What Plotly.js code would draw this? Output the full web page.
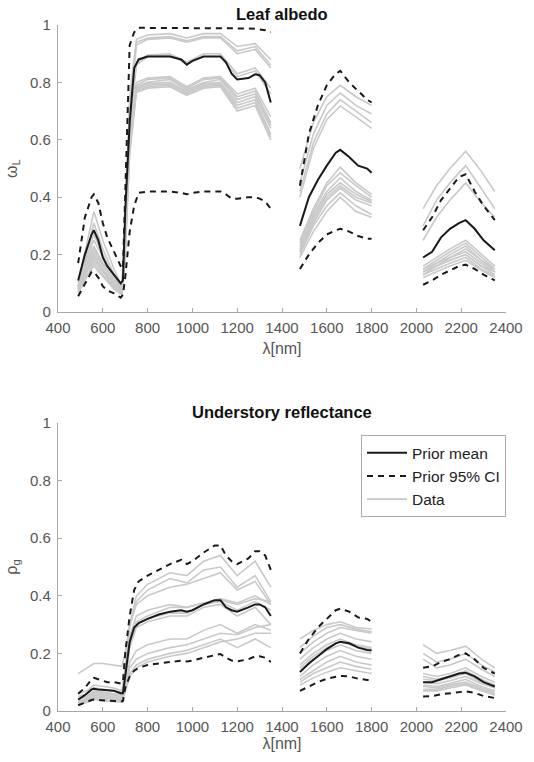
<!DOCTYPE html>
<html>
<head>
<meta charset="utf-8">
<script src="https://cdn.plot.ly/plotly-3.0.1.min.js"></script>
<style>html,body{margin:0;padding:0;background:#fff;}#plot{width:534px;height:762px;}</style>
</head>
<body>
<div id="plot"></div>
<script>
// Wavelengths for prior mean / CI (null = gap between bands)
const wl = [490,520,550,560,580,600,620,650,680,690,700,720,740,760,800,850,900,950,975,1000,1050,1100,1125,1150,1175,1200,1250,1280,1300,1325,1350,
  null,
  1480,1520,1560,1600,1640,1660,1700,1740,1780,1800,
  null,
  2030,2070,2110,2150,2190,2220,2260,2300,2350];

// Wavelengths for data curves
const wlData = [490,530,560,600,650,685,700,720,750,800,900,975,1050,1125,1200,1280,1350,
  null,
  1480,1540,1600,1660,1730,1800,
  null,
  2030,2090,2150,2220,2290,2350];

// ---- Leaf albedo ----
const leafMean = [0.11,0.20,0.27,0.285,0.25,0.19,0.16,0.13,0.10,0.11,0.35,0.66,0.85,0.88,0.89,0.89,0.89,0.88,0.862,0.875,0.89,0.89,0.89,0.87,0.83,0.81,0.815,0.828,0.825,0.80,0.73,
  null,
  0.30,0.40,0.46,0.51,0.555,0.565,0.54,0.51,0.50,0.485,
  null,
  0.19,0.21,0.26,0.29,0.31,0.32,0.29,0.25,0.215];
const leafUpper = [0.17,0.33,0.40,0.41,0.38,0.31,0.26,0.21,0.16,0.15,0.40,0.93,0.975,0.99,0.99,0.99,0.99,0.99,0.99,0.99,0.99,0.99,0.99,0.99,0.99,0.99,0.988,0.987,0.985,0.982,0.975,
  null,
  0.44,0.62,0.72,0.79,0.83,0.84,0.80,0.77,0.74,0.73,
  null,
  0.285,0.33,0.39,0.43,0.47,0.48,0.42,0.37,0.32];
const leafLower = [0.055,0.10,0.14,0.14,0.12,0.09,0.075,0.065,0.05,0.06,0.12,0.28,0.37,0.415,0.42,0.42,0.42,0.415,0.41,0.415,0.42,0.42,0.42,0.41,0.395,0.395,0.40,0.40,0.395,0.385,0.36,
  null,
  0.15,0.20,0.24,0.27,0.285,0.29,0.28,0.265,0.255,0.255,
  null,
  0.095,0.11,0.13,0.145,0.16,0.165,0.15,0.13,0.11];
const leafData = [
  [0.10,0.25,0.35,0.25,0.15,0.09,0.30,0.75,0.95,0.965,0.97,0.955,0.97,0.97,0.925,0.935,0.88, null, 0.50,0.66,0.75,0.79,0.75,0.72, null, 0.36,0.44,0.50,0.56,0.49,0.42],
  [0.09,0.22,0.31,0.22,0.13,0.085,0.28,0.72,0.94,0.955,0.96,0.945,0.96,0.96,0.91,0.925,0.86, null, 0.45,0.62,0.72,0.763,0.72,0.69, null, 0.30,0.39,0.45,0.51,0.43,0.36],
  [0.085,0.20,0.27,0.20,0.12,0.08,0.27,0.70,0.93,0.95,0.955,0.94,0.955,0.955,0.90,0.915,0.85, null, 0.42,0.59,0.69,0.74,0.70,0.66, null, 0.25,0.33,0.39,0.45,0.38,0.33],
  [0.09,0.19,0.25,0.19,0.12,0.08,0.26,0.66,0.87,0.895,0.90,0.87,0.90,0.90,0.83,0.85,0.78, null, 0.40,0.57,0.67,0.718,0.68,0.64, null, 0.16,0.19,0.22,0.25,0.20,0.16],
  [0.08,0.17,0.22,0.17,0.11,0.075,0.25,0.64,0.86,0.89,0.895,0.865,0.89,0.89,0.82,0.84,0.76, null, 0.25,0.36,0.45,0.505,0.45,0.41, null, 0.15,0.18,0.21,0.24,0.19,0.15],
  [0.08,0.16,0.21,0.16,0.10,0.075,0.24,0.60,0.79,0.81,0.815,0.78,0.81,0.815,0.75,0.77,0.66, null, 0.24,0.35,0.44,0.485,0.44,0.40, null, 0.15,0.17,0.20,0.23,0.18,0.15],
  [0.075,0.15,0.20,0.15,0.095,0.07,0.23,0.59,0.785,0.80,0.81,0.775,0.80,0.81,0.74,0.76,0.65, null, 0.23,0.34,0.42,0.467,0.42,0.39, null, 0.14,0.17,0.19,0.22,0.18,0.14],
  [0.075,0.145,0.19,0.145,0.09,0.07,0.22,0.58,0.78,0.795,0.80,0.77,0.795,0.80,0.73,0.75,0.64, null, 0.22,0.33,0.41,0.45,0.41,0.385, null, 0.14,0.16,0.19,0.21,0.17,0.14],
  [0.07,0.14,0.18,0.14,0.09,0.065,0.22,0.57,0.775,0.79,0.795,0.765,0.79,0.795,0.72,0.74,0.62, null, 0.21,0.31,0.39,0.432,0.39,0.37, null, 0.13,0.16,0.18,0.20,0.16,0.13],
  [0.07,0.13,0.17,0.13,0.085,0.065,0.21,0.56,0.77,0.785,0.79,0.76,0.785,0.79,0.71,0.73,0.61, null, 0.20,0.30,0.37,0.415,0.37,0.34, null, 0.13,0.15,0.17,0.19,0.15,0.125],
  [0.065,0.125,0.16,0.125,0.08,0.06,0.20,0.55,0.765,0.78,0.785,0.755,0.78,0.785,0.70,0.72,0.60, null, 0.19,0.28,0.35,0.40,0.35,0.33, null, 0.12,0.14,0.16,0.18,0.145,0.12],
  [0.09,0.18,0.23,0.17,0.11,0.08,0.24,0.61,0.80,0.815,0.82,0.785,0.815,0.82,0.76,0.78,0.68, null, 0.21,0.32,0.40,0.44,0.40,0.38, null, 0.14,0.16,0.18,0.20,0.16,0.14]
];

// ---- Understory reflectance ----
const soilMean = [0.04,0.055,0.075,0.077,0.075,0.073,0.072,0.070,0.062,0.062,0.12,0.24,0.29,0.305,0.32,0.335,0.345,0.35,0.345,0.35,0.37,0.385,0.385,0.36,0.35,0.345,0.36,0.37,0.37,0.36,0.33,
  null,
  0.135,0.165,0.19,0.215,0.235,0.24,0.235,0.22,0.212,0.21,
  null,
  0.10,0.10,0.11,0.12,0.13,0.133,0.12,0.10,0.085];
const soilUpper = [0.06,0.08,0.11,0.115,0.11,0.105,0.10,0.10,0.095,0.10,0.20,0.33,0.42,0.45,0.47,0.49,0.51,0.525,0.51,0.52,0.55,0.575,0.575,0.54,0.52,0.51,0.53,0.555,0.555,0.54,0.49,
  null,
  0.20,0.25,0.29,0.32,0.35,0.355,0.345,0.325,0.32,0.31,
  null,
  0.15,0.155,0.17,0.18,0.195,0.20,0.18,0.15,0.13];
const soilLower = [0.02,0.03,0.038,0.04,0.038,0.037,0.036,0.035,0.032,0.035,0.08,0.12,0.14,0.15,0.16,0.165,0.17,0.175,0.172,0.175,0.185,0.195,0.198,0.185,0.175,0.172,0.18,0.19,0.19,0.185,0.17,
  null,
  0.07,0.085,0.10,0.112,0.12,0.122,0.12,0.112,0.108,0.107,
  null,
  0.05,0.052,0.058,0.062,0.067,0.068,0.063,0.052,0.045];
const soilData = [
  [0.06,0.07,0.09,0.085,0.08,0.07,0.15,0.30,0.40,0.44,0.48,0.47,0.52,0.54,0.47,0.52,0.43, null, 0.25,0.28,0.30,0.31,0.29,0.285, null, 0.23,0.20,0.21,0.225,0.18,0.15],
  [0.05,0.06,0.08,0.075,0.07,0.065,0.14,0.29,0.38,0.42,0.46,0.445,0.49,0.50,0.43,0.47,0.38, null, 0.22,0.26,0.29,0.30,0.285,0.275, null, 0.20,0.17,0.18,0.20,0.16,0.135],
  [0.13,0.15,0.165,0.165,0.16,0.155,0.20,0.30,0.37,0.40,0.43,0.44,0.46,0.48,0.42,0.45,0.37, null, 0.20,0.24,0.27,0.29,0.28,0.27, null, 0.18,0.15,0.16,0.18,0.145,0.12],
  [0.04,0.05,0.07,0.065,0.06,0.055,0.12,0.25,0.31,0.33,0.36,0.36,0.375,0.39,0.375,0.40,0.37, null, 0.18,0.22,0.25,0.27,0.25,0.24, null, 0.13,0.12,0.13,0.15,0.12,0.10],
  [0.035,0.045,0.065,0.06,0.055,0.05,0.11,0.23,0.30,0.32,0.34,0.34,0.37,0.38,0.35,0.38,0.35, null, 0.16,0.20,0.23,0.25,0.23,0.22, null, 0.11,0.105,0.115,0.13,0.10,0.085],
  [0.03,0.04,0.06,0.055,0.05,0.045,0.10,0.22,0.29,0.31,0.33,0.33,0.36,0.37,0.33,0.36,0.30, null, 0.14,0.18,0.21,0.23,0.21,0.20, null, 0.10,0.095,0.105,0.12,0.095,0.08],
  [0.03,0.04,0.055,0.05,0.045,0.04,0.09,0.17,0.21,0.23,0.25,0.25,0.28,0.30,0.27,0.30,0.28, null, 0.12,0.16,0.19,0.21,0.19,0.18, null, 0.09,0.085,0.095,0.11,0.085,0.07],
  [0.03,0.035,0.05,0.045,0.04,0.04,0.08,0.15,0.18,0.20,0.22,0.23,0.25,0.27,0.265,0.29,0.30, null, 0.11,0.14,0.17,0.19,0.17,0.16, null, 0.085,0.08,0.09,0.10,0.08,0.065],
  [0.025,0.03,0.045,0.04,0.035,0.035,0.07,0.13,0.16,0.18,0.20,0.21,0.23,0.25,0.22,0.25,0.22, null, 0.10,0.13,0.15,0.17,0.155,0.145, null, 0.075,0.075,0.085,0.095,0.075,0.06],
  [0.025,0.03,0.04,0.035,0.033,0.03,0.065,0.12,0.15,0.17,0.19,0.20,0.22,0.24,0.25,0.27,0.27, null, 0.09,0.115,0.135,0.15,0.14,0.13, null, 0.07,0.07,0.08,0.09,0.07,0.055],
  [0.04,0.05,0.065,0.065,0.06,0.055,0.12,0.26,0.33,0.35,0.37,0.36,0.375,0.385,0.37,0.39,0.38, null, 0.15,0.19,0.22,0.24,0.225,0.215, null, 0.12,0.11,0.12,0.14,0.11,0.09]
];

const xTicks = [400,600,800,1000,1200,1400,1600,1800,2000,2200,2400];
const yTicks = [0,0.2,0.4,0.6,0.8,1];
const yTickText = ['0','0.2','0.4','0.6','0.8','1'];

const grey = '#c9c9c9';
const traces = [];
function addPanel(data, mean, upper, lower, xa, ya, withLegend) {
  data.forEach((d, i) => {
    traces.push({x: wlData, y: d, xaxis: xa, yaxis: ya, type: 'scatter', mode: 'lines',
      line: {color: grey, width: 1.6}, name: 'Data', legendgroup: 'data',
      showlegend: withLegend && i === 0, hoverinfo: 'skip', legendrank: 3});
  });
  traces.push({x: wl, y: mean, xaxis: xa, yaxis: ya, type: 'scatter', mode: 'lines',
    line: {color: '#1a1a1a', width: 2}, name: 'Prior mean', legendgroup: 'mean', showlegend: withLegend, legendrank: 1});
  traces.push({x: wl, y: upper, xaxis: xa, yaxis: ya, type: 'scatter', mode: 'lines',
    line: {color: '#1a1a1a', width: 2, dash: '6px,5px'}, name: 'Prior 95% CI', legendgroup: 'ci', showlegend: withLegend, legendrank: 2});
  traces.push({x: wl, y: lower, xaxis: xa, yaxis: ya, type: 'scatter', mode: 'lines',
    line: {color: '#1a1a1a', width: 2, dash: '6px,5px'}, name: 'Prior 95% CI', legendgroup: 'ci', showlegend: false});
}
addPanel(leafData, leafMean, leafUpper, leafLower, 'x', 'y', false);
addPanel(soilData, soilMean, soilUpper, soilLower, 'x2', 'y2', true);

const font = {family: 'Liberation Sans, Arial, Helvetica, sans-serif'};
function xaxis(anchor, standoff) {
  return {anchor: anchor, domain: [0, 1], range: [400, 2400], tickvals: xTicks, ticks: 'inside', ticklen: 4,
    tickcolor: '#a8a8a8', showline: true, linecolor: '#a8a8a8', linewidth: 1.2, showgrid: false, zeroline: false,
    tickfont: {size: 15, color: '#555'}, ticklabelstandoff: 2,
    title: {text: 'λ[nm]', font: {size: 16, color: '#555'}, standoff: standoff}};
}
function yaxis(anchor, domain, label) {
  return {anchor: anchor, domain: domain, range: [0, 1], tickvals: yTicks, ticktext: yTickText, ticks: 'inside', ticklen: 4,
    tickcolor: '#a8a8a8', showline: true, linecolor: '#a8a8a8', linewidth: 1.2, showgrid: false, zeroline: false,
    tickfont: {size: 15, color: '#555'}, ticklabelstandoff: 3,
    title: {text: label, font: {size: 16, color: '#555'}, standoff: 8}};
}

const layout = {
  width: 534, height: 762,
  margin: {l: 58, r: 28, t: 25, b: 51},
  paper_bgcolor: '#fff', plot_bgcolor: '#fff',
  font: font,
  showlegend: true,
  xaxis: xaxis('y', 7),
  yaxis: yaxis('x', [0.5816, 1], 'ω<sub>L</sub>'),
  xaxis2: xaxis('y2', 0),
  yaxis2: yaxis('x2', [0, 0.4198], 'ρ<sub>g</sub>'),
  legend: {x: 1, xanchor: 'right', y: 0.402, yanchor: 'top', bordercolor: '#aaa', borderwidth: 1,
    bgcolor: '#fff', font: {size: 15.5, color: '#222'}, itemwidth: 40, traceorder: 'normal'},
  annotations: [
    {text: '<b>Leaf albedo</b>', xref: 'paper', yref: 'paper', x: 0.5, y: 1, yshift: 11, yanchor: 'middle',
      showarrow: false, font: {size: 16.5, color: '#111'}},
    {text: '<b>Understory reflectance</b>', xref: 'paper', yref: 'paper', x: 0.5, y: 0.4198, yshift: 11, yanchor: 'middle',
      showarrow: false, font: {size: 16.5, color: '#111'}}
  ]
};

Plotly.newPlot('plot', traces, layout, {displayModeBar: false, staticPlot: true});
</script>
</body>
</html>
